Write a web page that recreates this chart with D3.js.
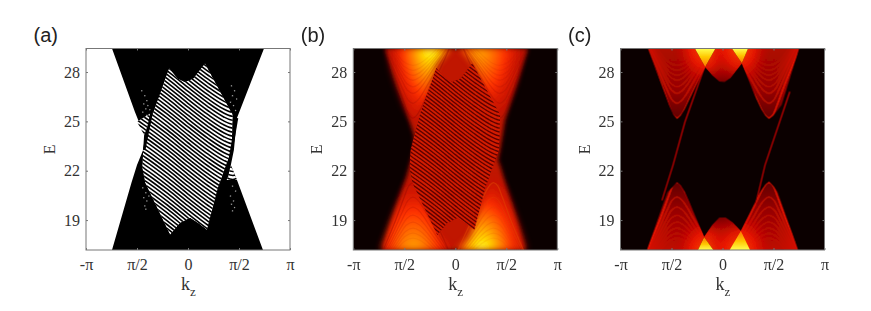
<!DOCTYPE html>
<html>
<head>
<meta charset="utf-8">
<script src="https://cdn.jsdelivr.net/npm/d3@7"></script>
<style>
html, body { margin: 0; padding: 0; background: #fff; }
svg { display: block; }
</style>
</head>
<body>
<div id="chart"></div>
<script>
// axis data, k in units of pi
var kTicks = [-1, -0.5, 0, 0.5, 1];
var kTickLabels = ["-π", "π/2", "0", "π/2", "π"];
var eTicks = [19, 22, 25, 28];
var kDomain = [-1, 1];
var eDomain = [17.18, 29.43];
var panelNames = ["(a)", "(b)", "(c)"];

// outline of the whole spectrum, [k, E]
var bandA = [[-0.745,29.43],[-0.52,25.57],[-0.43,24.17],[-0.44,23.26],[-0.5,22.34],[-0.555,21.25],[-0.745,17.18],[0.735,17.18],[0.48,21.43],[0.42,22.34],[0.45,23.26],[0.48,25.2],[0.745,29.43]];
var bandB = [[-0.69,29.43],[-0.405,24.17],[-0.405,23.26],[-0.474,21.74],[-0.59,19.6],[-0.71,17.18],[0.69,17.18],[0.438,22.34],[0.418,22.65],[0.438,23.26],[0.487,25.08],[0.713,29.43]];

// gapped central window with the striped bulk states
var lens = [[-0.186,28.24],[-0.1,27.6],[-0.03,27.39],[0.05,27.6],[0.167,28.54],[0.44,25.38],[0.43,23.26],[0.39,22.6],[0.294,20.95],[0.186,18.39],[0.1,18.8],[0.02,19.12],[-0.08,18.8],[-0.176,18.09],[-0.42,21.25],[-0.45,22.2],[-0.44,23.26],[-0.34,25.57]];
var stripeShape = [[-0.75,-1.4],[-0.62,-0.3],[-0.53,0],[-0.42,-0.4],[-0.2,-1.4],[0,-2.4],[0.2,-3.35],[0.35,-3.95],[0.44,-4.15],[0.5,-4.0],[0.6,-3.3]];
var stripeLevels = [18.9,19.14,19.38,19.62,19.86,20.1,20.34,20.58,20.82,21.06,21.3,21.54,21.78,22.02,22.26,22.5,22.74,22.98,23.22,23.46,23.7,23.94,24.18,24.42,24.66,24.9,25.14,25.38,25.62,25.86,26.1,26.34,26.58,26.82,27.06,27.3,27.54,27.78,28.02,28.26,28.5,28.74,28.98,29.22,29.46,29.7,29.94,30.18,30.42,30.66,30.9,31.14,31.38,31.62,31.86,32.1];

// thick surface-state lines, little striped wedges and speckles of panel (a)
var edgeAL = [[-0.343,25.99],[-0.43,23.26]];
var edgeAR = [[0.48,25.2],[0.38,21.6]];
var wedges = [[[-0.5,24.98],[-0.343,25.58],[-0.43,24.17]], [[0.42,22.34],[0.48,21.43],[0.38,21.43]]];
var speckK = [-0.46,-0.43,-0.41,-0.44,-0.4,-0.42,-0.38,-0.45,-0.41,-0.37,0.42,0.45,0.43,0.47,0.41,0.44,0.46,0.42,-0.45,-0.42,-0.44,-0.41,-0.43,-0.39,-0.42,0.43,0.46,0.41,0.44,0.42,0.45,0.43];
var speckE = [26.9,26.6,26.3,26.1,26.0,25.8,25.75,25.6,25.4,25.5,27.2,26.9,26.6,26.4,26.2,26.0,25.7,25.5,21.0,20.7,20.4,20.2,19.9,20.5,19.7,21.1,20.8,20.5,20.2,20,19.8,19.6];

// lobes of panel (b), one hot spot in each
var lobesB = [
    [[-0.72,29.43],[-0.42,24.2],[-0.3,26.2],[-0.18,28.5],[-0.04,29.43]],
    [[0.74,29.43],[0.47,24.4],[0.34,26.4],[0.18,28.5],[0.04,29.43]],
    [[-0.74,17.18],[-0.44,22.2],[-0.3,20.2],[-0.16,18.0],[-0.02,17.18]],
    [[0.72,17.18],[0.42,22.4],[0.34,21.3],[0.14,17.97],[0.02,17.18]]
];
var hotB = [[-0.25,29.7,0.42,5.0],[0.24,29.7,0.42,4.8],[-0.41,16.9,0.42,4.4],[0.26,16.9,0.46,4.8]];

// lobes of panel (c)
var lobeCUL = [[-0.73,29.43],[-0.52,25.95],[-0.48,25.4],[-0.446,25.15],[-0.41,25.35],[-0.37,25.75],[-0.32,26.4],[-0.17,28.3],[-0.27,29.43]];
var lobeCUR = [[0.75,29.43],[0.58,26.0],[0.5,25.35],[0.456,25.15],[0.42,25.35],[0.38,25.75],[0.33,26.4],[0.19,28.54],[0.25,29.43]];
var lobeCLL = [[-0.74,17.18],[-0.54,20.7],[-0.49,21.0],[-0.446,21.3],[-0.41,21.1],[-0.37,20.7],[-0.32,20.0],[-0.18,17.97],[-0.24,17.18]];
var lobeCLR = [[0.74,17.18],[0.54,20.7],[0.5,21.05],[0.456,21.35],[0.42,21.15],[0.38,20.8],[0.33,20.2],[0.18,18.33],[0.07,17.18]];
var domeCU = [[-0.17,28.3],[-0.1,27.8],[-0.03,27.42],[0.02,27.39],[0.08,27.65],[0.19,28.54],[0.093,29.43],[-0.07,29.43]];
var domeCL = [[-0.18,17.97],[-0.1,18.7],[-0.03,19.15],[0.03,19.15],[0.1,18.85],[0.18,18.33],[0.07,17.18],[-0.09,17.18]];
var triangles = [[[-0.17,28.3],[-0.27,29.43],[-0.07,29.43]], [[0.19,28.54],[0.093,29.43],[0.25,29.43]], [[-0.18,17.97],[-0.24,17.18],[-0.09,17.18]], [[0.18,18.33],[0.07,17.18],[0.27,17.18]]];
var diracL = [[-0.593,20.2],[-0.485,22.34],[-0.368,24.96],[-0.17,28.43]];
var diracR = [[0.319,19.79],[0.417,22.34],[0.593,25.57],[0.66,26.8]];
var hotC = [[-0.17,29.6,0.32,2.6],[0.17,29.6,0.3,2.6],[-0.16,17.0,0.32,2.4],[0.17,17.0,0.32,2.6]];

// rib curves: one U shape, moved to each rib's vertex energy
var ribShape = [[-0.3,4.23],[-0.17,2.3],[-0.08,0.8],[-0.04,0.2],[0,0],[0.036,0.15],[0.076,0.55],[0.126,1.2],[0.276,3.1],[0.4,4.8]];
var ribsUpper = [25.2,26.1,26.7,27.1,27.5,27.8,28.1,28.4];
var ribsLower = [21.28,20.4,19.79,19.3,18.88,18.51,18.2,17.9];
var ribWiden = [1,1.2,1.35,1.5,1.65,1.8,1.95,2.1];
var ribGlow = [0.95,0.55,0.45,0.35,0.3,0.25,0.2,0.15];
var vertexK = [-0.446,0.456];

var width = 871, height = 311;
var plotW = 204, plotH = 201.5, plotTop = 48.5;
var panelLeft = [86, 353.3, 620.5];

var svg = d3.select("#chart").append("svg").attr("width", width).attr("height", height);
var defs = svg.append("defs");

var x = d3.scaleLinear().domain(kDomain).range([0, plotW]);
var y = d3.scaleLinear().domain(eDomain).range([plotH, 0]);
var area = d3.line().x(function (d) { return x(d[0]); }).y(function (d) { return y(d[1]); });
var curve = d3.line().x(function (d) { return x(d[0]); }).y(function (d) { return y(d[1]); }).curve(d3.curveCatmullRom.alpha(0.5));

function blur(id, s) {
    defs.append("filter").attr("id", id)
        .attr("x", "-30%").attr("y", "-30%").attr("width", "160%").attr("height", "160%")
        .append("feGaussianBlur").attr("stdDeviation", s);
}
blur("b03", 0.3); blur("b06", 0.6); blur("b07", 0.7); blur("b20", 2); blur("b30", 3);

function gradient(tag, id, stops, attrs) {
    var g = defs.append(tag).attr("id", id);
    Object.keys(attrs).forEach(function (a) { g.attr(a, attrs[a]); });
    stops.forEach(function (s) {
        g.append("stop").attr("offset", s[0]).attr("stop-color", s[1]).attr("stop-opacity", s[2]);
    });
}
gradient("radialGradient", "hot", [[0,"#ffff70",1],[0.16,"#ffe800",1],[0.36,"#ff9800",1],[0.65,"#ff3000",1],[1,"#d81000",0.2]], {});
gradient("radialGradient", "hotDim", [[0,"#ffb000",1],[0.25,"#ff8000",1],[0.6,"#ff3000",1],[1,"#d81000",0.2]], {});
gradient("radialGradient", "glowC", [[0,"#ff5000",1],[0.5,"#f01800",0.8],[1,"#c00000",0]], {});
gradient("linearGradient", "lobeUp", [[0,"#b00800",1],[0.6,"#960400",1],[1,"#600000",1]], {x1:0,y1:0,x2:0,y2:1});
gradient("linearGradient", "lobeDown", [[0,"#600000",1],[0.4,"#960400",1],[1,"#c00800",1]], {x1:0,y1:0,x2:0,y2:1});
gradient("linearGradient", "triUp", [[0,"#ffff50",1],[0.45,"#ffc800",1],[1,"#ff7000",1]], {x1:0,y1:0,x2:0,y2:1});
gradient("linearGradient", "triDown", [[0,"#ff7000",1],[0.55,"#ffc800",1],[1,"#ffff50",1]], {x1:0,y1:0,x2:0,y2:1});
gradient("linearGradient", "domeUp", [[0,"#b00c00",1],[1,"#7a0400",1]], {x1:0,y1:0,x2:0,y2:1});
gradient("linearGradient", "domeDown", [[0,"#7a0400",1],[1,"#b00c00",1]], {x1:0,y1:0,x2:0,y2:1});

function clip(id, pts) {
    defs.append("clipPath").attr("id", id).append("path").attr("d", area(pts) + "Z");
}
clip("clipLens", lens);
clip("clipBandB", bandB);
lobesB.forEach(function (l, i) { clip("clipLobeB" + i, l); });
clip("clipCUL", lobeCUL); clip("clipCUR", lobeCUR); clip("clipCLL", lobeCLL); clip("clipCLR", lobeCLR);
// hot glow of panel (c) stays on the lit states
var litC = defs.append("clipPath").attr("id", "clipLitC");
[lobeCUL, lobeCUR, lobeCLL, lobeCLR, domeCU, domeCL].forEach(function (p) {
    litC.append("path").attr("d", area(p) + "Z");
});
defs.append("clipPath").attr("id", "clipPlot").append("rect").attr("width", plotW).attr("height", plotH);

function stripes(g, color, w) {
    g.selectAll("path.stripe").data(stripeLevels).enter().append("path")
        .attr("class", "stripe")
        .attr("d", function (lv) {
            return curve(stripeShape.map(function (p) { return [p[0], lv + p[1]]; }));
        })
        .attr("fill", "none").attr("stroke", color).attr("stroke-width", w);
}

// nested rib curves inside one lobe
function ribs(g, levels, vertex, flipK, flipE, color, w, fade) {
    levels.forEach(function (lv, i) {
        var pts = ribShape.map(function (p) {
            return [vertex + flipK * p[0] * ribWiden[i], lv + flipE * p[1]];
        });
        g.append("path").attr("d", curve(pts)).attr("fill", "none")
            .attr("stroke", color).attr("stroke-width", w).attr("stroke-opacity", ribGlow[i] * fade);
    });
}

function hotSpots(g, spots, fills) {
    g.selectAll("ellipse").data(spots).enter().append("ellipse")
        .attr("cx", function (d) { return x(d[0]); })
        .attr("cy", function (d) { return y(d[1]); })
        .attr("rx", function (d) { return x(d[2]) - x(0); })
        .attr("ry", function (d) { return y(0) - y(d[3]); })
        .attr("fill", function (d, i) { return "url(#" + fills[i] + ")"; });
}

function drawPanelA(g) {
    var s = g.append("g").attr("filter", "url(#b03)");
    s.append("path").attr("d", area(bandA) + "Z").attr("fill", "#000");
    var l = s.append("g").attr("clip-path", "url(#clipLens)");
    l.append("path").attr("d", area(lens) + "Z").attr("fill", "#fff");
    stripes(l, "#000", 1.6);
    wedges.forEach(function (w, i) {
        s.append("path").attr("d", area(w) + "Z").attr("fill", "#fff");
        clip("clipWedge" + i, w);
        s.append("g").attr("clip-path", "url(#clipWedge" + i + ")").call(function (c) { stripes(c, "#000", 1.6); });
    });
    s.selectAll("rect.speck").data(speckK).enter().append("rect")
        .attr("class", "speck")
        .attr("x", function (d) { return x(d); })
        .attr("y", function (d, i) { return y(speckE[i]); })
        .attr("width", 1.3).attr("height", 1.3).attr("fill", "#fff").attr("opacity", 0.6);
    [edgeAL, edgeAR].forEach(function (d) {
        s.append("path").attr("d", area(d)).attr("fill", "none").attr("stroke", "#000").attr("stroke-width", 2.6);
    });
}

function drawPanelB(g) {
    g.append("rect").attr("width", plotW).attr("height", plotH).attr("fill", "#0b0000");
    g.append("path").attr("d", area(bandB) + "Z").attr("fill", "#c01400").attr("filter", "url(#b20)");
    var glow = g.append("g").attr("filter", "url(#b30)");
    lobesB.forEach(function (l, i) {
        var c = glow.append("g").attr("clip-path", "url(#clipLobeB" + i + ")");
        hotSpots(c, [hotB[i]], [i === 0 || i === 3 ? "hot" : "hotDim"]);
    });
    var r = g.append("g").attr("clip-path", "url(#clipBandB)");
    ribs(r, ribsUpper, vertexK[0] + 0.03, 1, 1, "#900800", 1.3, 0.4);
    ribs(r, ribsUpper, vertexK[1] - 0.02, -1, 1, "#900800", 1.3, 0.4);
    ribs(r, ribsLower, vertexK[0] + 0.03, 1, -1, "#900800", 1.3, 0.4);
    ribs(r, ribsLower, vertexK[1] - 0.08, -1, -1, "#e04000", 1.3, 0.6);
    var l = g.append("g").attr("filter", "url(#b06)").append("g").attr("clip-path", "url(#clipLens)");
    l.append("path").attr("d", area(lens) + "Z").attr("fill", "#d41c00");
    stripes(l, "#600400", 1.4);
}

function drawPanelC(g) {
    g.append("rect").attr("width", plotW).attr("height", plotH).attr("fill", "#0b0000");
    var soft = g.append("g").attr("filter", "url(#b07)");
    [[lobeCUL, "clipCUL", ribsUpper, 0, 1, "lobeUp"], [lobeCUR, "clipCUR", ribsUpper, 1, 1, "lobeUp"],
     [lobeCLL, "clipCLL", ribsLower, 0, -1, "lobeDown"], [lobeCLR, "clipCLR", ribsLower, 1, -1, "lobeDown"]].forEach(function (l) {
        soft.append("path").attr("d", area(l[0]) + "Z").attr("fill", "url(#" + l[5] + ")");
        var c = soft.append("g").attr("clip-path", "url(#" + l[1] + ")");
        ribs(c, l[2], vertexK[l[3]], l[3] ? -1 : 1, l[4], "#f01800", 1.5, 1);
    });
    soft.append("path").attr("d", area(domeCU) + "Z").attr("fill", "url(#domeUp)").attr("filter", "url(#b07)");
    soft.append("path").attr("d", area(domeCL) + "Z").attr("fill", "url(#domeDown)").attr("filter", "url(#b07)");
    [diracL, diracR].forEach(function (d) {
        soft.append("path").attr("d", area(d)).attr("fill", "none").attr("stroke", "#c00800").attr("stroke-width", 1.3);
    });
    hotSpots(g.append("g").attr("filter", "url(#b07)").append("g").attr("clip-path", "url(#clipLitC)"), hotC, ["glowC", "glowC", "glowC", "glowC"]);
    g.selectAll("path.tri").data(triangles).enter().append("path")
        .attr("class", "tri")
        .attr("d", function (t) { return area(t) + "Z"; })
        .attr("fill", function (d, i) { return i < 2 ? "url(#triUp)" : "url(#triDown)"; })
        .attr("filter", "url(#b07)");
}

var drawers = [drawPanelA, drawPanelB, drawPanelC];

panelLeft.forEach(function (left, i) {
    var panel = svg.append("g").attr("transform", "translate(" + left + "," + plotTop + ")");
    var plot = panel.append("g").attr("clip-path", "url(#clipPlot)");
    drawers[i](plot);

    panel.append("rect").attr("width", plotW).attr("height", plotH)
        .attr("fill", "none").attr("stroke", "#777").attr("stroke-width", 1);

    var xAxis = d3.axisBottom(x).tickValues(kTicks).tickSize(-2).tickPadding(9)
        .tickFormat(function (d, j) { return kTickLabels[j]; });
    var yAxis = d3.axisLeft(y).tickValues(eTicks).tickSize(-2).tickPadding(6).tickFormat(d3.format("d"));
    var yRight = d3.axisRight(y).tickValues(eTicks).tickSize(-2).tickFormat("");
    var xTop = d3.axisTop(x).tickValues(kTicks).tickSize(-2).tickFormat("");

    panel.append("g").attr("transform", "translate(0," + plotH + ")").call(xAxis);
    panel.append("g").call(yAxis);
    panel.append("g").attr("transform", "translate(" + plotW + ",0)").call(yRight);
    panel.append("g").call(xTop);
    panel.selectAll(".domain").remove();
    panel.selectAll(".tick line").attr("stroke", "#777");
    panel.selectAll(".tick text").attr("font-family", "'Liberation Serif'").attr("font-size", 16).attr("fill", "#333");

    panel.append("text").attr("transform", "translate(-31," + (plotH / 2) + ") rotate(-90)")
        .attr("text-anchor", "middle").attr("font-family", "'Liberation Serif'").attr("font-size", 16).attr("fill", "#333").text("E");

    var xl = panel.append("text").attr("x", plotW / 2 - 7).attr("y", 241.5)
        .attr("font-family", "'Liberation Serif'").attr("font-size", 18).attr("fill", "#333");
    xl.append("tspan").text("k");
    xl.append("tspan").attr("dy", 6).attr("font-size", 13).text("z");

    panel.append("text").attr("x", -52.5).attr("y", -7)
        .attr("font-family", "'Liberation Sans'").attr("font-size", 20).attr("fill", "#222").text(panelNames[i]);
});
</script>
</body>
</html>
